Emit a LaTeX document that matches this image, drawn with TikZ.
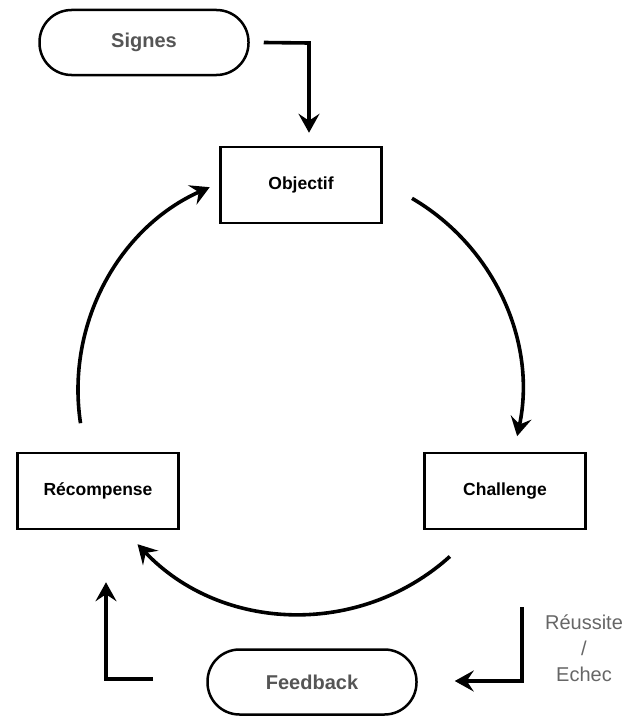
\documentclass[tikz,border=0pt]{standalone}
\usepackage{fontspec}
\setmainfont{Liberation Sans}
\usetikzlibrary{arrows.meta}
\definecolor{txtgray}{HTML}{555555}
\definecolor{lblgray}{HTML}{666666}
\tikzset{
  stadium/.style={draw, line width=2.5pt, rounded corners=32pt, minimum width=209pt, minimum height=65pt, inner sep=0pt,
    font=\fontsize{20}{24}\selectfont\bfseries, text=txtgray},
  stagebox/.style={draw, line width=2.5pt, minimum width=161pt, minimum height=76pt, inner sep=0pt,
    font=\fontsize{17.5}{21}\selectfont\bfseries, text=black},
  flow/.style={line width=3.6pt, -{Stealth[length=19pt,width=21pt,inset=7pt]}},
  lbl/.style={font=\fontsize{20}{26}\selectfont, text=lblgray, align=center, inner sep=0pt}
}
\begin{document}
\begin{tikzpicture}[x=1pt,y=1pt]
\useasboundingbox (0,0) rectangle (630,-717);
% nodes
\node[stadium] (signes) at (144,-42.5) {Signes};
\node[stagebox] (obj) at (301,-185) {Objectif};
\node[stagebox] (chal) at (505,-491) {Challenge};
\node[stagebox] (recomp) at (98,-491) {Récompense};
\node[stadium] (feed) at (312,-682) {Feedback};
\node[lbl] (res) at (584,-648) {Réussite\\/\\Echec};
% circle centre
\coordinate (O) at (300,-390);
\coordinate (a1) at ([shift={(59.7:222)}]O);
\coordinate (a2) at ([shift={(-48:224)}]O);
\coordinate (a3) at ([shift={(188.6:222)}]O);
% Signes -> Objectif
\coordinate (s1) at ([xshift=14pt]signes.east);
\coordinate (s2) at (309,-43);
\draw[flow] (s1) -- (s2) -- ([yshift=13pt]obj.north -| s2);
% Objectif -> Challenge
\draw[flow] (a1) arc[start angle=59.7, end angle=-12, radius=222];
% Challenge -> Récompense
\draw[flow] (a2) arc[start angle=-48, end angle=-136.5, radius=224];
% Récompense -> Objectif
\draw[flow] (a3) arc[start angle=188.6, end angle=114, radius=222];
% Challenge (Réussite/Echec) -> Feedback
\coordinate (r1) at (522,-607);
\coordinate (r2) at (522,-681);
\draw[flow] (r1) -- (r2) -- ([xshift=37pt]feed.east |- r2);
% Feedback -> Récompense
\coordinate (f1) at (153,-679);
\coordinate (f2) at (106,-679);
\draw[flow] (f1) -- (f2) -- ([yshift=-52pt]recomp.south -| f2);
\end{tikzpicture}
\end{document}
